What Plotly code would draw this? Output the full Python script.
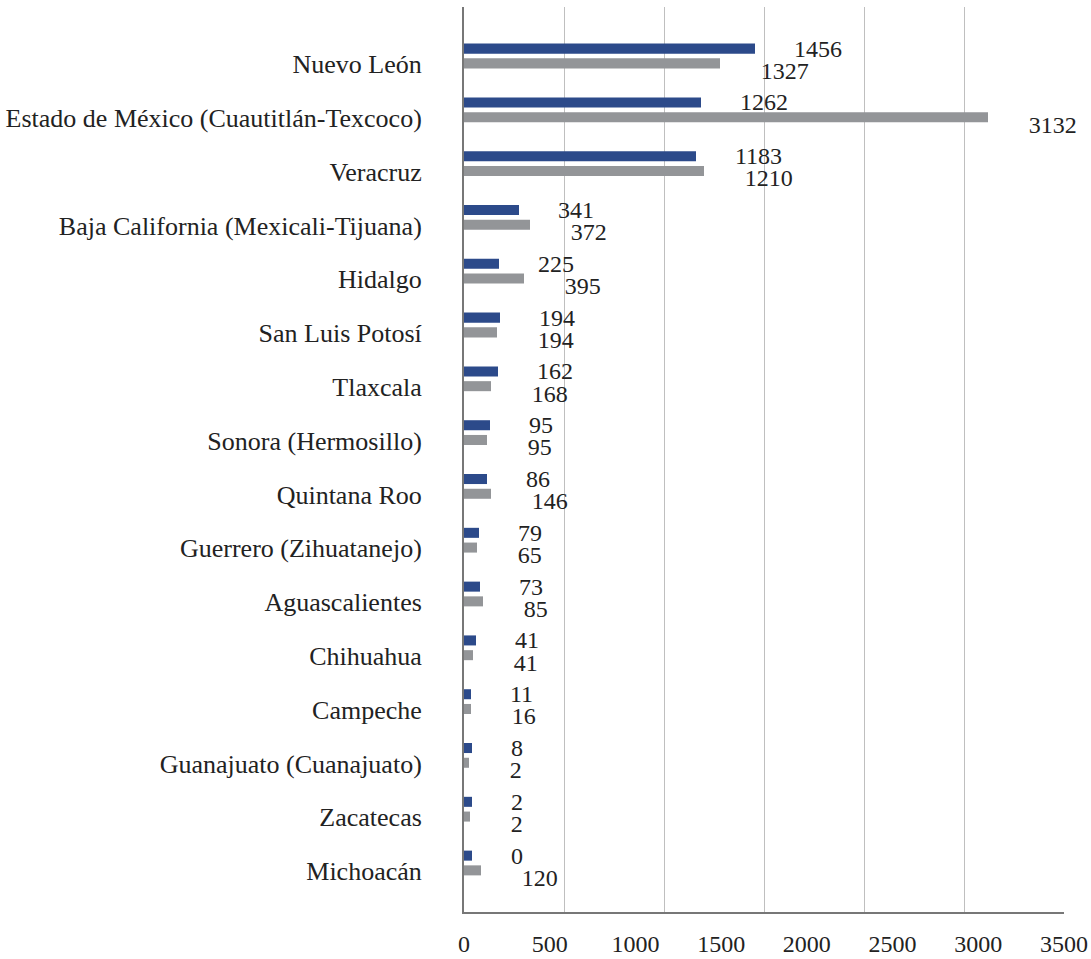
import plotly.graph_objects as go

categories = [
    "Nuevo León",
    "Estado de México (Cuautitlán-Texcoco)",
    "Veracruz",
    "Baja California (Mexicali-Tijuana)",
    "Hidalgo",
    "San Luis Potosí",
    "Tlaxcala",
    "Sonora (Hermosillo)",
    "Quintana Roo",
    "Guerrero (Zihuatanejo)",
    "Aguascalientes",
    "Chihuahua",
    "Campeche",
    "Guanajuato (Cuanajuato)",
    "Zacatecas",
    "Michoacán",
]

# bar lengths as drawn in the picture (gridline scale)
blue_values = [1455, 1185, 1160, 275, 175, 180, 170, 130, 115, 75, 80, 60, 35, 40, 40, 40]
gray_values = [1280, 2620, 1200, 330, 300, 165, 135, 115, 135, 65, 95, 45, 35, 25, 30, 85]

# data labels as printed in the picture
blue_labels = ["1456", "1262", "1183", "341", "225", "194", "162", "95", "86", "79", "73", "41", "11", "8", "2", "0"]
gray_labels = ["1327", "3132", "1210", "372", "395", "194", "168", "95", "146", "65", "85", "41", "16", "2", "2", "120"]

grid_ticks = [0, 500, 1000, 1500, 2000, 2500, 3000]
axis_tick_labels = [0, 500, 1000, 1500, 2000, 2500, 3000, 3500]

BLUE = "#2C4A8A"
GRAY = "#939598"
FONT = "Liberation Serif"
TXT = "#222222"
PAD = "\u00a0" * 6

fig = go.Figure()
fig.add_trace(go.Bar(
    y=categories, x=blue_values, orientation="h",
    marker=dict(color=BLUE, line=dict(width=0)), showlegend=False,
    text=[PAD + t for t in blue_labels], textposition="outside", constraintext="none",
    cliponaxis=False, textfont=dict(family=FONT, size=24, color=TXT),
))
fig.add_trace(go.Bar(
    y=categories, x=gray_values, orientation="h",
    marker=dict(color=GRAY, line=dict(width=0)), showlegend=False,
))
fig.add_trace(go.Scatter(
    y=categories, x=gray_values, mode="markers+text", text=[PAD + t for t in gray_labels],
    marker=dict(size=6, opacity=0), textposition="bottom right", cliponaxis=False,
    textfont=dict(family=FONT, size=24, color=TXT), showlegend=False, hoverinfo="skip",
))
# invisible trace to activate the labelled axis
fig.add_trace(go.Scatter(x=[0, 3500], y=[categories[0], categories[0]], xaxis="x2",
                         mode="markers", marker=dict(opacity=0), showlegend=False,
                         hoverinfo="skip", cliponaxis=False))

fig.update_layout(
    width=1091, height=959,
    margin=dict(l=464, r=27, t=7, b=47, autoexpand=False),
    paper_bgcolor="white", plot_bgcolor="white",
    barmode="group", bargap=0.452, bargroupgap=0.32,
    font=dict(family=FONT, size=25, color=TXT),
    xaxis=dict(range=[0, 3000], tickvals=grid_ticks, showticklabels=False,
               showgrid=True, gridcolor="#BFBFBF", gridwidth=1, zeroline=False, showline=True,
               linecolor="#777777", linewidth=2, ticks="", automargin=False),
    xaxis2=dict(range=[0, 3500], tickvals=axis_tick_labels, overlaying="x", side="bottom",
                anchor="y", showgrid=False, zeroline=False, showline=False, ticks="",
                automargin=False, ticklabelstandoff=15,
                tickfont=dict(family=FONT, size=24, color=TXT)),
    yaxis=dict(autorange="reversed", showline=True, linecolor="#777777", linewidth=2,
               showgrid=False, zeroline=False, ticks="", ticklabelstandoff=35,
               ticklabelshift=-8, automargin=False,
               tickfont=dict(family=FONT, size=26, color=TXT)),
)

# remove the page's default body margin so the figure fills the window exactly
fig.write_html("out.html", config={"displayModeBar": False},
               post_script="document.body.style.margin='0';")
